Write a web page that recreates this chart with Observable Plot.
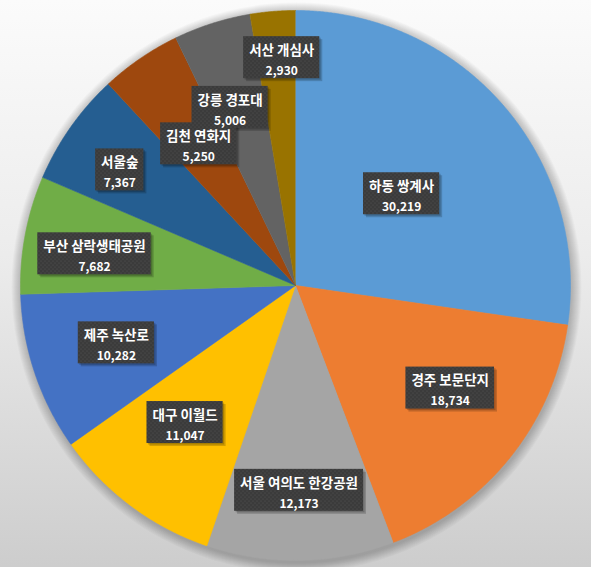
<!DOCTYPE html>
<html><head><meta charset="utf-8">
<script src="https://cdn.jsdelivr.net/npm/d3@7"></script>
<script src="https://cdn.jsdelivr.net/npm/@observablehq/plot@0.6"></script>
<style>
html,body{margin:0;padding:0;background:#fff;overflow:hidden;}
</style>
</head><body>
<svg width="0" height="0" style="position:absolute">
<defs>
<pattern id="dots" width="4" height="4" patternUnits="userSpaceOnUse">
<rect width="4" height="4" fill="#3b3b3b"/>
<circle cx="1" cy="1" r="0.6" fill="#555555"/>
<circle cx="3" cy="3" r="0.6" fill="#555555"/>
</pattern>
</defs></svg>
<div id="chart"></div>
<script>
// ---- data ----
const names = ["하동 쌍계사", "경주 보문단지", "서울 여의도 한강공원", "대구 이월드", "제주 녹산로",
  "부산 삼락생태공원", "서울숲", "김천 연화지", "강릉 경포대", "서산 개심사"];
const values = [30219, 18734, 12173, 11047, 10282, 7682, 7367, 5250, 5006, 2930];
const colors = ["#5B9BD5", "#ED7D31", "#A5A5A5", "#FFC000", "#4472C4",
  "#70AD47", "#255E91", "#9E480E", "#636363", "#997300"];

// ---- layout (label placement: distance from centre as share of radius, angular nudge in degrees) ----
const labelDist = [0.51, 0.675, 0.745, 0.64, 0.684, 0.74, 0.765, 0.624, 0.69, 0.83];
const labelNudge = [0, -5.2, 0, 2.1, 0.8, -1.7, -1.8, 0, -2.5, 1.3];

const W = 591, H = 567, R = 275;
const fmt = d3.format(",");
const pie = d3.pie().sort(null).value(d => d)(values);

const slicePts = [];
pie.forEach((p, i) => {
  slicePts.push({name: names[i], x: 0, y: 0});
  const n = Math.max(2, Math.ceil((p.endAngle - p.startAngle) / 0.005));
  for (let k = 0; k <= n; k++) {
    const a = p.startAngle + (p.endAngle - p.startAngle) * k / n;
    slicePts.push({name: names[i], x: Math.sin(a), y: Math.cos(a)});
  }
});

const ctx = document.createElement("canvas").getContext("2d");
function tw(s, size) { ctx.font = `bold ${size}px "Noto Sans CJK KR"`; return ctx.measureText(s).width; }

const labels = pie.map((p, i) => {
  const a = (p.startAngle + p.endAngle) / 2 + labelNudge[i] * Math.PI / 180;
  const x = labelDist[i] * Math.sin(a), y = labelDist[i] * Math.cos(a);
  const v = fmt(values[i]);
  const w = Math.max(tw(names[i], 13.5), tw(v, 12)) + 11;
  return {name: names[i], value: v, x, y,
    x1: x - w / 2 / R, x2: x + w / 2 / R, y1: y - 21 / R, y2: y + 21 / R};
});

const rings = d3.range(1, 11).map(i => ({r: R + i}));

const chart = Plot.plot({
  width: W, height: H,
  marginLeft: 20, marginRight: 21, marginTop: 10, marginBottom: 7,
  x: {domain: [-1, 1], axis: null},
  y: {domain: [-1, 1], axis: null},
  r: {type: "identity"},
  color: {domain: names, range: colors},
  style: {background: "linear-gradient(to bottom, #fbfbfb 0%, #ececec 45%, #cdcdcd 100%)", fontFamily: "'Noto Sans CJK KR', sans-serif"},
  marks: [
    Plot.dot(rings, {x: () => 0, y: () => 0, r: "r", fill: "#000", fillOpacity: 0.025, dy: 2, dx: 1}),
    Plot.line(slicePts, {x: "x", y: "y", z: "name", fill: "name", stroke: "name", strokeWidth: 0.6}),
    Plot.rect(labels, {x1: "x1", x2: "x2", y1: "y1", y2: "y2", fill: "#000", fillOpacity: 0.18, dx: 3, dy: 3}),
    Plot.rect(labels, {x1: "x1", x2: "x2", y1: "y1", y2: "y2", fill: "#000", fillOpacity: 0.18, dx: 1.5, dy: 1.5}),
    Plot.rect(labels, {x1: "x1", x2: "x2", y1: "y1", y2: "y2", fill: "url(#dots)"}),
    Plot.text(labels, {x: "x", y: "y", text: "name", dy: -7, fill: "white", fontWeight: "bold", fontSize: 13.5}),
    Plot.text(labels, {x: "x", y: "y", text: "value", dy: 13.5, fill: "white", fontWeight: "bold", fontSize: 12})
  ]
});
document.getElementById("chart").appendChild(chart);
</script>
</body></html>
